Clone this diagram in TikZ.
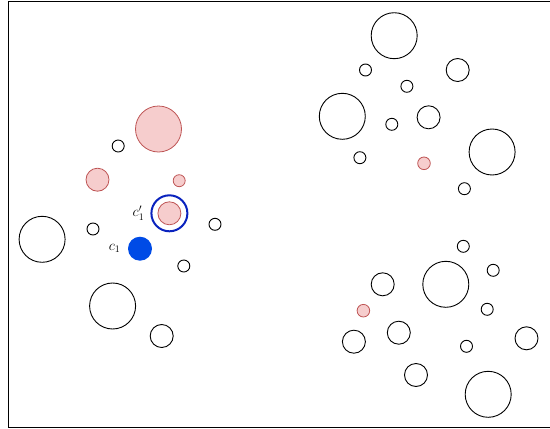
\documentclass[tikz,border=0pt]{standalone}
\definecolor{pinkfill}{RGB}{246,205,205}
\definecolor{pinkline}{RGB}{190,85,85}
\definecolor{ringblue}{RGB}{10,35,190}
\definecolor{discblue}{RGB}{0,75,230}
\tikzset{
  hole/.style={line width=0.9pt},
  pinkdisc/.style={draw=pinkline,fill=pinkfill,line width=0.8pt},
  lbl/.style={font=\fontsize{14}{16}\selectfont}
}
\begin{document}
\begin{tikzpicture}[x=1pt,y=-1pt]
  \useasboundingbox (0,0) rectangle (550,429);
  \draw[line width=1pt] (8.5,1) rectangle (552,427);
  \foreach \x/\y/\r in {118.2/146/6,93/229/6,215/224.3/6,183.8/266/6,
      42.1/239.3/23,112.6/306/23,161.7/336/11.5,
      394.2/35.7/23,365.5/70/6,457.7/70/11.5,406.9/86.3/6,342.3/116.3/23,
      391.8/124.3/6,428.6/117.3/11.5,492.1/152/23,359.9/157.7/6,464.4/188.7/6,
      463.3/246.3/6,493.2/270.3/6,382.7/284.3/11.5,445.8/284.3/23,
      487.2/309.3/6,398.8/332.7/11.5,353.9/341.7/11.5,466.5/346.3/6,
      526.5/338.3/11.5,416/375/11.5,488.2/394.3/23}
    \draw[hole] (\x,\y) circle (\r);
  \foreach \x/\y/\r in {158.5/129/23,97.5/179.7/11.5,179.2/180.7/6,
      169.4/213.3/11.5,424/163.3/6.3,363.4/310.7/6.3}
    \draw[pinkdisc] (\x,\y) circle (\r);
  \draw[ringblue,line width=2pt] (169.4,213.3) circle (18);
  \fill[discblue] (140,248.7) circle (12);
  \node[lbl] (cprime) at (138.5,213) {$c_1'$};
  \node[lbl] (cone) at (114.7,248.7) {$c_1$};
\end{tikzpicture}
\end{document}
